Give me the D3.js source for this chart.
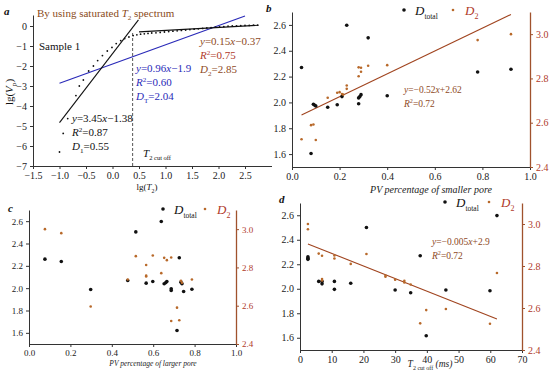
<!DOCTYPE html>
<html><head><meta charset="utf-8">
<script src="https://cdn.jsdelivr.net/npm/d3@7"></script>
<style>body{margin:0;background:#fff}svg{display:block}</style>
</head><body><svg id="c" width="550" height="374"></svg>
<script>
// ---------- DATA ----------
// panel a
const aXTicks = [-1.5,-1.0,-0.5,0.0,0.5,1.0,1.5,2.0,2.5];
const aYTicks = [0,-1,-2,-3,-4,-5,-6,-7];
const aDotX = [-1.0,-0.93,-0.845,-0.69,-0.626,-0.55,-0.45,-0.36,-0.28,-0.19,-0.098,-0.01,0.07,0.155,0.23,0.31,0.39,
  0.46,0.53,0.6,0.67,0.74,0.82,0.9,0.98,1.06,1.14,1.22,1.3,1.38,1.46,1.54,1.62,1.7,1.78,1.86,1.94,2.02,2.1,2.18,2.26,2.34,2.42,2.5,2.58,2.66,2.74];
const aDotY = [-6.3,-5.37,-4.63,-3.48,-3.0,-2.7,-2.25,-2.0,-1.73,-1.48,-1.25,-1.07,-0.88,-0.73,-0.63,-0.55,-0.48,
  -0.44,-0.41,-0.39,-0.37,-0.35,-0.34,-0.32,-0.3,-0.28,-0.26,-0.24,-0.22,-0.2,-0.18,-0.16,-0.14,-0.12,-0.1,-0.08,-0.06,-0.04,-0.03,-0.01,0.0,0.01,0.02,0.03,0.03,0.04,0.04];
const aLineSteep = [[-1.0,-4.83],[0.49,0.31]];
const aLineBlue  = [[-1.0,-2.86],[2.5,0.50]];
const aLineFlat  = [[0.5,-0.295],[2.75,0.04]];
const aCutoffX = 0.38;
const aCutoffY = [-0.35,-7];

// shared axes
const fracTicks = [0,0.2,0.4,0.6,0.8,1.0];
const leftTicks = [1.6,1.8,2.0,2.2,2.4,2.6];
const rightTicks = [2.4,2.6,2.8,3.0];
const dXTicks = [0,10,20,30,40,50,60,70];

// panel b
const bXTot = [0.04,0.08,0.09,0.096,0.10,0.15,0.19,0.21,0.23,0.28,0.28,0.285,0.29,0.32,0.40,0.78,0.92];
const bYTot = [2.27,1.605,1.985,1.978,1.972,1.962,1.982,2.045,2.598,1.99,2.035,2.045,2.06,2.50,2.052,2.236,2.257];
const bX2 = [0.04,0.08,0.09,0.10,0.15,0.19,0.20,0.21,0.215,0.23,0.23,0.28,0.28,0.29,0.29,0.32,0.40,0.78,0.92];
const bY2 = [2.525,2.589,2.592,2.522,2.713,2.735,2.738,2.73,2.727,2.768,2.753,2.81,2.85,2.848,2.83,2.857,2.86,2.973,3.0];
const bFit = [[0.04,2.635],[0.92,3.089]];

// panel c
const cXTot = [0.077,0.156,0.298,0.477,0.516,0.566,0.598,0.639,0.653,0.661,0.666,0.687,0.687,0.715,0.726,0.734,0.739,0.747,0.787];
const cYTot = [2.26,2.239,1.988,2.069,2.504,2.045,2.06,2.597,2.039,2.05,2.06,1.994,1.979,1.621,2.272,2.054,2.039,1.97,1.99];
const cX2 = [0.077,0.156,0.298,0.477,0.516,0.566,0.566,0.566,0.598,0.639,0.653,0.666,0.687,0.687,0.715,0.726,0.734,0.739,0.787];
const cY2 = [3.0,2.979,2.596,2.737,2.859,2.813,2.757,2.753,2.862,2.77,2.85,2.838,2.852,2.52,2.59,2.524,2.73,2.72,2.737];

// panel d
const dXTot = [2.5,2.5,2.5,5.9,6.95,6.95,10.85,10.85,16,20.95,30,34.9,37.9,39.8,46,59.9,62.1];
const dYTot = [2.26,2.24,2.25,2.06,2.06,2.04,2.06,1.995,2.045,2.50,1.99,1.967,2.27,1.616,1.99,1.984,2.597];
const dX2 = [2.5,2.5,5.9,6.95,6.95,6.95,10.85,10.85,16,20.95,26.95,26.95,30,32.9,32.9,34.9,37.9,39.8,46,59.9,62.1];
const dY2 = [3.0,2.975,2.859,2.849,2.738,2.731,2.85,2.836,2.81,2.857,2.754,2.749,2.735,2.73,2.722,2.712,2.527,2.59,2.595,2.525,2.767];
const dFit = [[2.5,2.905],[62.1,2.548]];

// ---------- STYLE ----------
const FONT = "'Liberation Serif','Times New Roman',serif";
const AX = "#333";
const BROWN_AX = "#a0522d";
const BROWN_TXT = "#b03a2a";
const BROWN_DOT = "#b8692a";
const BROWN_LINE = "#a0441f";
const EQ_BROWN = "#8e4a1e";
const BLUE = "#2a2ab8";

const svg = d3.select("#c").style("font-family", FONT);
svg.append("rect").attr("width",550).attr("height",374).attr("fill","#fff");

// rich text helper: parts [{t, i(italic), sub, sup, size}]
function rich(g, x, y, parts, size, color, anchor) {
  const t = g.append("text").attr("x", x).attr("y", y)
    .attr("font-size", size).attr("fill", color).attr("text-anchor", anchor || "start");
  let shift = 0;
  parts.forEach(p => {
    const s = t.append("tspan").text(p.t);
    let target = p.sub ? size*0.3 : p.sup ? -size*0.4 : 0;
    if (target !== shift) { s.attr("dy", target - shift); shift = target; }
    if (p.i) s.attr("font-style", "italic");
    if (p.sub || p.sup) s.attr("font-size", size*0.65);
    if (p.size) s.attr("font-size", p.size);
    if (p.fill) s.attr("fill", p.fill);
  });
  return t;
}

function styleAxis(g, color, txtColor, fs) {
  g.selectAll("path").attr("stroke", color).attr("stroke-width", 1);
  g.selectAll("line").attr("stroke", color);
  g.selectAll("text").attr("fill", txtColor).attr("font-family", FONT).attr("font-size", fs || 10);
}

const line = d3.line();

// ---------- PANEL A ----------
(function(){
  const x = d3.scaleLinear().domain([-1.5, 3.0]).range([33, 271.5]);
  const y = d3.scaleLinear().domain([-7, 0.55]).range([166, 15]);
  const g = svg.append("g");
  const fmt = d3.format(".1f");
  const gx = g.append("g").attr("transform","translate(0,166)")
    .call(d3.axisBottom(x).tickValues(aXTicks).tickFormat(fmt).tickSize(3).tickSizeOuter(0));
  styleAxis(gx, AX, "#222");
  gx.selectAll("text").attr("dy","0.68em");
  const gy = g.append("g").attr("transform","translate(33,0)")
    .call(d3.axisLeft(y).tickValues(aYTicks).tickFormat(d3.format("d")).tickSize(3).tickSizeOuter(0));
  styleAxis(gy, AX, "#222");
  // dashed cutoff
  g.append("path").attr("d", line(aCutoffY.map(v=>[x(aCutoffX), y(v)])))
    .attr("stroke","#555").attr("stroke-dasharray","3,2").attr("fill","none");
  // lines
  g.append("path").attr("d", line(aLineBlue.map(p=>[x(p[0]),y(p[1])]))).attr("stroke",BLUE).attr("stroke-width",1.2).attr("fill","none");
  g.append("path").attr("d", line(aLineSteep.map(p=>[x(p[0]),y(p[1])]))).attr("stroke","#111").attr("stroke-width",1.1).attr("fill","none");
  g.append("path").attr("d", line(aLineFlat.map(p=>[x(p[0]),y(p[1])]))).attr("stroke","#111").attr("stroke-width",1.1).attr("fill","none");
  // dots
  g.selectAll("circle.ad").data(aDotX.map((v,i)=>[v,aDotY[i]])).enter().append("circle")
    .attr("cx",d=>x(d[0])).attr("cy",d=>y(d[1])).attr("r",0.9).attr("fill","#111");
  // texts
  rich(g, 37, 17, [{t:"By using saturated "},{t:"T",i:true},{t:"2",sub:true},{t:" spectrum"}], 11, "#8a4a20");
  rich(g, 39, 50, [{t:"Sample 1"}], 11, "#111");
  rich(g, 200, 45, [{t:"y",i:true},{t:"=0.15"},{t:"x",i:true},{t:"−0.37"}], 11, EQ_BROWN);
  rich(g, 200, 59, [{t:"R",i:true},{t:"2",sup:true},{t:"=0.75"}], 11, BROWN_TXT);
  rich(g, 200, 73, [{t:"D",i:true},{t:"2",sub:true},{t:"=2.85"}], 11, EQ_BROWN);
  rich(g, 136, 72, [{t:"y",i:true},{t:"=0.96"},{t:"x",i:true},{t:"−1.9"}], 11, BLUE);
  rich(g, 136, 86, [{t:"R",i:true},{t:"2",sup:true},{t:"=0.60"}], 11, BLUE);
  rich(g, 136, 100, [{t:"D",i:true},{t:"T",sub:true},{t:"=2.04"}], 11, BLUE);
  rich(g, 72, 122, [{t:"y",i:true},{t:"=3.45"},{t:"x",i:true},{t:"−1.38"}], 11, "#111");
  rich(g, 72, 136, [{t:"R",i:true},{t:"2",sup:true},{t:"=0.87"}], 11, "#111");
  rich(g, 72, 150, [{t:"D",i:true},{t:"1",sub:true},{t:"=0.55"}], 11, "#111");
  rich(g, 143, 157, [{t:"T",i:true},{t:"2 cut off",sub:true,size:6.5}], 11, "#111");
  rich(g, 147, 190, [{t:"lg("},{t:"T",i:true},{t:"2",sub:true},{t:")"}], 9, "#111", "middle");
  rich(g, 0, 0, [{t:"lg("},{t:"V",i:true},{t:"p",sub:true},{t:")"}], 11, "#111", "middle")
    .attr("transform","translate(13,92) rotate(-90)");
  rich(g, 4, 15, [{t:"a",i:true}], 11, "#111").attr("font-weight","bold");
})();

// ---------- shared scatter panel ----------
function panel(opt) {
  const g = svg.append("g");
  const fs = opt.fs || 10;
  const x = d3.scaleLinear().domain(opt.xDom).range([opt.x0, opt.x1]);
  const yL = d3.scaleLinear().domain([1.5, 2.7]).range([opt.y1, opt.y0]);
  const yR = d3.scaleLinear().domain([2.4, 3.1]).range([opt.y1, opt.y0]);
  const gx = g.append("g").attr("transform",`translate(0,${opt.y1})`)
    .call(d3.axisBottom(x).tickValues(opt.xTicks).tickFormat(opt.xFmt).tickSize(3).tickSizeOuter(0));
  styleAxis(gx, AX, "#222", fs);
  const gy = g.append("g").attr("transform",`translate(${opt.x0},0)`)
    .call(d3.axisLeft(yL).tickValues(leftTicks).tickFormat(d3.format(".1f")).tickSize(3).tickSizeOuter(0));
  styleAxis(gy, AX, "#222", fs);
  const gr = g.append("g").attr("transform",`translate(${opt.x1},0)`)
    .call(d3.axisRight(yR).tickValues(rightTicks).tickFormat(d3.format(".1f")).tickSize(3).tickSizeOuter(0));
  styleAxis(gr, BROWN_AX, BROWN_TXT, fs);
  gr.select("path").attr("stroke-width",1.3);
  if (opt.fit) {
    g.append("path").attr("d", line(opt.fit.map(p=>[x(p[0]), yR(p[1])])))
      .attr("stroke", BROWN_LINE).attr("stroke-width",1.1).attr("fill","none");
  }
  g.selectAll("circle.t").data(opt.xt.map((v,i)=>[v,opt.yt[i]])).enter().append("circle")
    .attr("cx",d=>x(d[0])).attr("cy",d=>yL(d[1])).attr("r",1.8).attr("fill","#111");
  g.selectAll("circle.d").data(opt.x2.map((v,i)=>[v,opt.y2[i]])).enter().append("circle")
    .attr("cx",d=>x(d[0])).attr("cy",d=>yR(d[1])).attr("r",1.3).attr("fill",BROWN_DOT);
  // legend
  const L = opt.leg;
  g.append("circle").attr("cx",L[0]).attr("cy",L[1]).attr("r",1.8).attr("fill","#111");
  rich(g, L[0]+11, L[1]+5, [{t:"D",i:true},{t:"total",sub:true,size:7.5}], 13, "#111");
  g.append("circle").attr("cx",L[2]).attr("cy",L[1]).attr("r",1.3).attr("fill",BROWN_DOT);
  rich(g, L[2]+12, L[1]+5, [{t:"D",i:true},{t:"2",sub:true,size:8}], 13, BROWN_TXT);
  if (opt.eq) {
    rich(g, opt.eq[0], opt.eq[1], [{t:"y",i:true},{t:opt.eq[2]},{t:"x",i:true},{t:opt.eq[3]}], 9.5, EQ_BROWN);
    rich(g, opt.eq[0], opt.eq[1]+14, [{t:"R",i:true},{t:"2",sup:true},{t:"=0.72"}], 9.5, EQ_BROWN);
  }
  rich(g, opt.lab[0], opt.lab[1], [{t:opt.lab[2],i:true}], 11, "#111").attr("font-weight","bold");
  return {g, x};
}

// ---------- PANEL B ----------
(function(){
  const p = panel({xDom:[0,1], x0:292, x1:530, y0:12, y1:167, xTicks:fracTicks, xFmt:d3.format(".1f"),
    xt:bXTot, yt:bYTot, x2:bX2, y2:bY2, fit:bFit, leg:[404,10,453],
    eq:[404,93,"=−0.52","+2.62"], lab:[266,12,"b"]});
  rich(p.g, 431, 193, [{t:"PV percentage of smaller pore",i:true}], 10, "#222", "middle");
})();

// ---------- PANEL C ----------
(function(){
  const p = panel({xDom:[0,1], x0:29, x1:236, y0:210, y1:344, xTicks:fracTicks, xFmt:d3.format(".1f"),
    xt:cXTot, yt:cYTot, x2:cX2, y2:cY2, fit:null, leg:[163,209,205], eq:null, lab:[8,212,"c"], fs:9});
  rich(p.g, 153, 366, [{t:"PV percentage of larger pore",i:true}], 7.5, "#222", "middle");
})();

// ---------- PANEL D ----------
(function(){
  const p = panel({xDom:[0,70], x0:300, x1:522, y0:203, y1:350, xTicks:dXTicks, xFmt:d3.format("d"),
    xt:dXTot, yt:dYTot, x2:dX2, y2:dY2, fit:dFit, leg:[445,202,489],
    eq:[432,245,"=−0.005","+2.9"], lab:[279,203,"d"]});
  rich(p.g, 430, 367, [{t:"T",i:true},{t:"2 cut off",sub:true,size:6},{t:" (ms)",i:true}], 9.5, "#222", "middle");
})();
</script></body></html>
